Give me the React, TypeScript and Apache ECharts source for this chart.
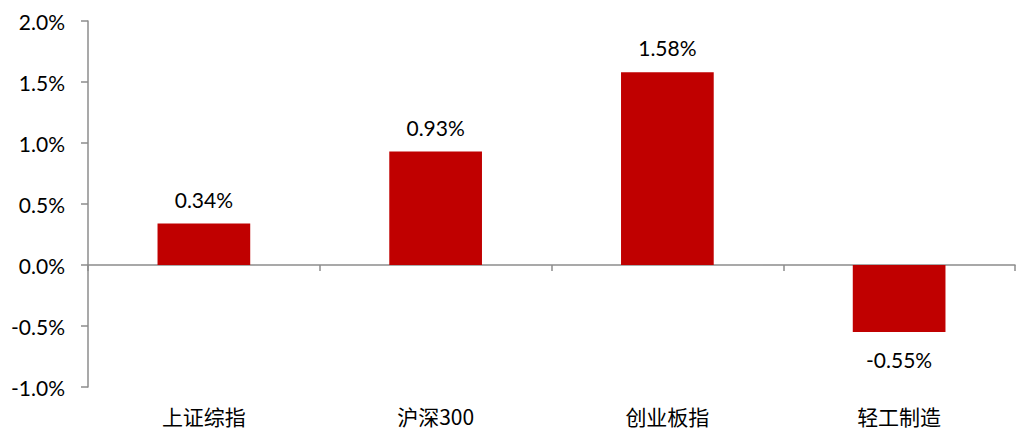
import React, { useEffect, useRef } from "react";
import * as echarts from "echarts";

const categories = ["上证综指", "沪深300", "创业板指", "轻工制造"];
const values = [0.34, 0.93, 1.58, -0.55];
const yMin = -1.0;
const yMax = 2.0;
const yInterval = 0.5;

export default function App() {
  const ref = useRef<HTMLDivElement>(null);
  useEffect(() => {
    document.body.style.margin = "0";
    const chart = echarts.init(ref.current!, null, { renderer: "svg" });
    const numFont = "Lato, 'Liberation Sans', sans-serif";
    chart.setOption({
      animation: false,
      backgroundColor: "#ffffff",
      grid: { left: 88, right: 1, top: 21, bottom: 45, containLabel: false },
      xAxis: [
        {
          type: "category",
          data: categories,
          axisLine: { onZero: true, lineStyle: { color: "#8c8c8c", width: 1.5 } },
          axisTick: { show: true, length: 6, lineStyle: { color: "#8c8c8c", width: 1.5 } },
          axisLabel: { show: false },
        },
        {
          type: "category",
          data: categories,
          position: "bottom",
          axisLine: { show: false, onZero: false },
          axisTick: { show: false },
          axisLabel: {
            show: true,
            margin: 18,
            fontSize: 21,
            color: "#000",
            fontFamily: "'Noto Sans CJK SC', sans-serif",
          },
        },
      ],
      yAxis: {
        type: "value",
        min: yMin,
        max: yMax,
        interval: yInterval,
        axisLine: { show: true, lineStyle: { color: "#8c8c8c", width: 1.5 } },
        axisTick: { show: true, length: 7, lineStyle: { color: "#8c8c8c", width: 1.5 } },
        splitLine: { show: false },
        axisLabel: {
          formatter: (v: number) => v.toFixed(1) + "%",
          fontSize: 21,
          color: "#000",
          margin: 23,
          fontFamily: numFont,
        },
      },
      series: [
        {
          type: "bar",
          xAxisIndex: 0,
          barWidth: "40%",
          data: values.map((v) => ({
            value: v,
            label: {
              show: true,
              position: v >= 0 ? "top" : "bottom",
              distance: v >= 0 ? 14 : 17,
              formatter: v.toFixed(2) + "%",
              fontSize: 21,
              color: "#000",
              fontFamily: numFont,
            },
          })),
          itemStyle: { color: "#C00000" },
        },
      ],
    });
    return () => chart.dispose();
  }, []);
  return (
    <div
      ref={ref}
      style={{ position: "absolute", left: 0, top: 0, width: 1016, height: 432 }}
    />
  );
}
